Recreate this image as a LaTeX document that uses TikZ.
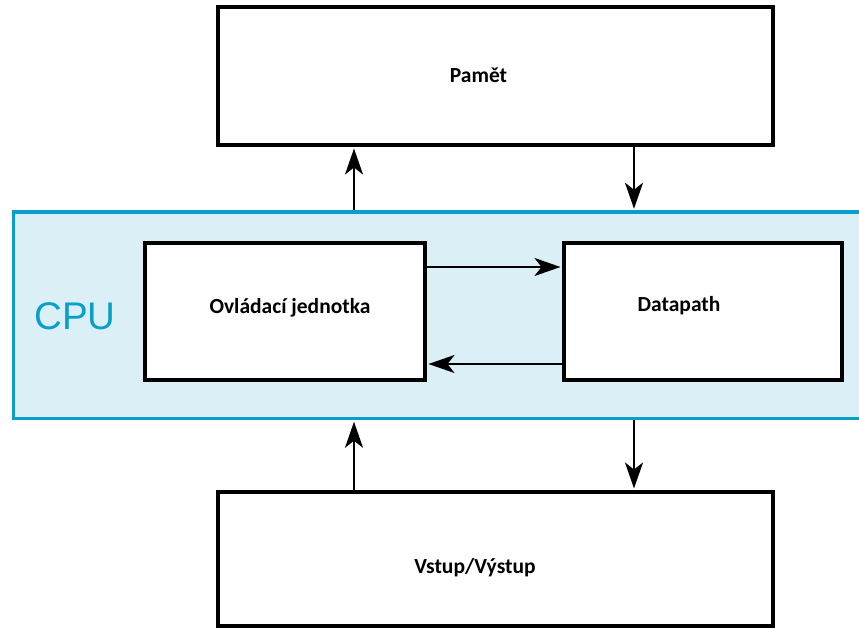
\documentclass[tikz,border=0pt]{standalone}
\usepackage{fontspec}
\setmainfont{Carlito}
\newfontfamily\cpufont{Liberation Sans}
\usetikzlibrary{arrows.meta}
\definecolor{cpuedge}{RGB}{8,160,202}
\definecolor{cpufill}{RGB}{218,239,246}
\begin{document}
\begin{tikzpicture}[x=1pt,y=-1pt,
  block/.style={draw=black, line width=4pt, fill=white, rectangle, inner sep=0pt},
  lbl/.style={font=\bfseries\fontsize{21.5}{25}\selectfont, anchor=base, inner sep=0pt},
  arr/.style={line width=2.3pt, shorten >=1.5pt, -{Stealth[length=26pt,width=18pt,inset=7pt]}}]
\useasboundingbox (0,0) rectangle (859,628);

% CPU band (runs off the right edge)
\node[draw=cpuedge, fill=cpufill, line width=3.5pt, rectangle, inner sep=0pt,
      minimum width=866.5pt, minimum height=206.5pt] (cpu) at (446.75,315.25) {};

% blocks
\node[block, minimum width=555pt, minimum height=137.5pt] (mem) at (495.5,76.25) {};
\node[block, minimum width=280pt, minimum height=137pt] (ctrl) at (285,311.5) {};
\node[block, minimum width=278pt, minimum height=137pt] (dp) at (703,311.5) {};
\node[block, minimum width=555pt, minimum height=134pt] (io) at (495.5,559) {};

% labels
\node[font=\cpufont\fontsize{38.5}{44}\selectfont, text=cpuedge, anchor=base, inner sep=0pt] (tcpu) at (75,329) {CPU};
\node[lbl] (tmem) at (478.5,83) {Pamět};
\node[lbl] (tctrl) at (290,313) {Ovládací jednotka};
\node[lbl] (tdp) at (679,311) {Datapath};
\node[lbl] (tio) at (475,573) {Vstup/Výstup};

% connector positions
\coordinate (xl) at (354,0);
\coordinate (xr) at (634,0);
\coordinate (ya) at (0,267);
\coordinate (yb) at (0,364);

% connectors
\draw[arr] (cpu.north -| xl) -- (mem.south -| xl);
\draw[arr] (mem.south -| xr) -- (cpu.north -| xr);
\draw[arr] (io.north -| xl) -- (cpu.south -| xl);
\draw[arr] (cpu.south -| xr) -- (io.north -| xr);
\draw[arr] (ctrl.east |- ya) -- (dp.west |- ya);
\draw[arr] (dp.west |- yb) -- (ctrl.east |- yb);
\end{tikzpicture}
\end{document}
